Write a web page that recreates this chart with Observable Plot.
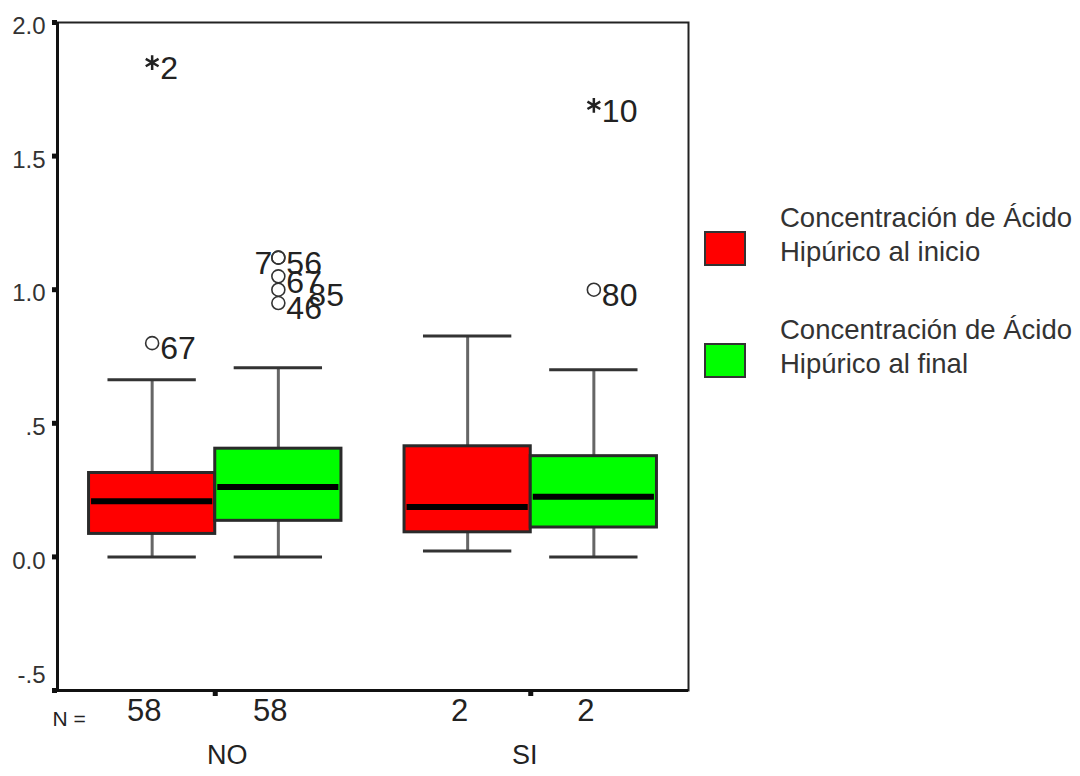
<!DOCTYPE html>
<html>
<head>
<meta charset="utf-8">
<script src="https://cdn.jsdelivr.net/npm/d3@7"></script>
<script src="https://cdn.jsdelivr.net/npm/@observablehq/plot@0.6"></script>
<style>
  body { margin: 0; background: #fff; }
  #wrap { position: relative; width: 1080px; height: 776px; overflow: hidden; background: #fff; }
  #chart { position: absolute; left: 0; top: 0; }
  #legend { position: absolute; left: 704px; top: 0; width: 376px; height: 776px; }
  .sw { position: absolute; left: 0; width: 38px; height: 31px; border: 2px solid #333; }
  .lab { position: absolute; left: 76px; font-family: "Liberation Sans", Arial, sans-serif;
         font-size: 27.5px; line-height: 34px; color: #333; white-space: nowrap; }
</style>
</head>
<body>
<div id="wrap">
  <div id="chart"></div>
  <div id="legend"></div>
</div>
<script>
// Groups (x axis) and the two measured series
const groups = ["NO", "SI"];
const seriesNames = [
  "Concentración de Ácido\nHipúrico al inicio",
  "Concentración de Ácido\nHipúrico al final"
];

// Box-plot summaries, indexed [group][series]
const counts      = [[58, 58], [2, 2]];
const whiskerLow  = [[0.000, 0.000], [0.022, 0.000]];
const quartile1   = [[0.086, 0.135], [0.092, 0.110]];
const medians     = [[0.208, 0.262], [0.187, 0.225]];
const quartile3   = [[0.314, 0.405], [0.414, 0.377]];
const whiskerHigh = [[0.663, 0.708], [0.827, 0.700]];

// Outliers (circle) and extreme values (asterisk) with their case labels
const outlierGroup  = ["NO", "NO", "NO", "NO", "NO", "NO", "NO", "SI", "SI"];
const outlierSeries = [0, 0, 1, 1, 1, 1, 1, 1, 1];
const outlierValue  = [1.85, 0.80, 1.12, 1.12, 1.05, 1.00, 0.95, 1.69, 1.00];
const outlierKind   = ["extreme", "outlier", "outlier", "outlier", "outlier", "outlier", "outlier", "extreme", "outlier"];
const outlierLabel  = ["2", "67", "7", "56", "67", "85", "46", "10", "80"];

// Y axis ticks and their printed labels
const yTicks = [-0.5, 0, 0.5, 1.0, 1.5, 2.0];
const yTickLabels = ["-.5", "0.0", ".5", "1.0", "1.5", "2.0"];

// ---- styling ----
const fills = ["#ff0000", "#00ff00"];
const font = '"Liberation Sans", Arial, sans-serif';
const xDomain = [-1.25, 3.75];
const groupSpacing = 2.5;
const boxHalf = 0.5, capHalf = 0.35;
const center = (gi, si) => gi * groupSpacing + (si - 0.5);
const tickLabel = d => yTickLabels[yTicks.indexOf(d)];

const rows = [];
groups.forEach((g, gi) => seriesNames.forEach((s, si) => rows.push({
  group: g, si, cx: center(gi, si),
  lo: whiskerLow[gi][si], q1: quartile1[gi][si], med: medians[gi][si],
  q3: quartile3[gi][si], hi: whiskerHigh[gi][si], n: counts[gi][si]
})));

const outliers = outlierValue.map((v, i) => ({
  cx: center(groups.indexOf(outlierGroup[i]), outlierSeries[i]),
  value: v, kind: outlierKind[i], label: outlierLabel[i],
  key: `${outlierGroup[i]}-${outlierSeries[i]}-${outlierLabel[i]}`
}));
// label placement tweaks for crowded labels
const nudges = { "NO-1-7": "left", "NO-1-85": "far" };
const lblRight = outliers.filter(d => !nudges[d.key]);
const lblLeft  = outliers.filter(d => nudges[d.key] === "left");
const lblFar   = outliers.filter(d => nudges[d.key] === "far");
const lblStyle = { x: "cx", y: "value", text: "label", fontSize: 32, fill: "#222", dy: 6 };

const groupLabelDx = { NO: 12, SI: -6 };
const yLabelStyle = { y: d => d, text: tickLabel, frameAnchor: "left", textAnchor: "end", dx: -12, fontSize: 24, fill: "#333" };

const chart = Plot.plot({
  width: 700,
  height: 776,
  marginTop: 22,
  marginBottom: 86,
  marginLeft: 57,
  marginRight: 12,
  style: { background: "white", fontFamily: font, color: "#333" },
  x: { domain: xDomain, axis: null },
  y: { domain: [yTicks[0], yTicks[yTicks.length - 1]] },
  marks: [
    Plot.frame({ stroke: "#222", strokeWidth: 2 }),
    Plot.ruleX([xDomain[0]], { stroke: "#111", strokeWidth: 3 }),
    Plot.ruleY([yTicks[0]], { stroke: "#111", strokeWidth: 3 }),
    // y axis tick marks; labels sit a little below their ticks, the lowest lifted above the corner
    Plot.axisY({
      ticks: yTicks, tickFormat: () => "",
      tickSize: 5, stroke: "#111", strokeWidth: 5, label: null
    }),
    Plot.text(yTicks.slice(1), { ...yLabelStyle, dy: 4 }),
    Plot.text(yTicks.slice(0, 1), { ...yLabelStyle, dy: -15 }),
    Plot.axisX({
      ticks: groups.map((g, gi) => gi * groupSpacing),
      tickFormat: () => "", tickSize: 6, stroke: "#111", strokeWidth: 5, label: null
    }),
    // whiskers
    Plot.ruleX(rows, { x: "cx", y1: "lo", y2: "q1", stroke: "#666", strokeWidth: 3 }),
    Plot.ruleX(rows, { x: "cx", y1: "q3", y2: "hi", stroke: "#666", strokeWidth: 3 }),
    Plot.ruleY(rows, { y: "lo", x1: d => d.cx - capHalf, x2: d => d.cx + capHalf, stroke: "#333", strokeWidth: 3 }),
    Plot.ruleY(rows, { y: "hi", x1: d => d.cx - capHalf, x2: d => d.cx + capHalf, stroke: "#333", strokeWidth: 3 }),
    // boxes
    Plot.rect(rows, {
      x1: d => d.cx - boxHalf, x2: d => d.cx + boxHalf, y1: "q1", y2: "q3",
      fill: d => fills[d.si], stroke: "#2a2a2a", strokeWidth: 3
    }),
    Plot.ruleY(rows, { y: "med", x1: d => d.cx - boxHalf + 0.02, x2: d => d.cx + boxHalf - 0.02, stroke: "#000", strokeWidth: 6 }),
    // outliers and extremes
    Plot.dot(outliers.filter(d => d.kind === "outlier"), {
      x: "cx", y: "value", r: 6.5, symbol: "circle", stroke: "#333", strokeWidth: 1.6, fill: "none"
    }),
    Plot.dot(outliers.filter(d => d.kind === "extreme"), {
      x: "cx", y: "value", r: 7, symbol: "asterisk", stroke: "#222", strokeWidth: 2.5
    }),
    Plot.text(lblRight, { ...lblStyle, textAnchor: "start", dx: 8 }),
    Plot.text(lblLeft,  { ...lblStyle, textAnchor: "end", dx: -6 }),
    Plot.text(lblFar,   { ...lblStyle, textAnchor: "start", dx: 30 }),
    // N = row
    Plot.text(["N ="], { frameAnchor: "bottom-left", text: d => d, textAnchor: "start", dx: -5, dy: 35, fontSize: 21, fill: "#222" }),
    Plot.text(rows, { x: "cx", text: "n", frameAnchor: "bottom", dy: 30, dx: -8, fontSize: 31, fill: "#222" }),
    // group labels
    ...groups.map((g, gi) => Plot.text([g], {
      x: () => gi * groupSpacing, text: d => d, frameAnchor: "bottom",
      dy: 73, dx: groupLabelDx[g], fontSize: 27, fill: "#222"
    }))
  ]
});
document.getElementById("chart").appendChild(chart);

// legend
const legend = document.getElementById("legend");
const legendTops = [231, 343];
seriesNames.forEach((name, i) => {
  const sw = document.createElement("div");
  sw.className = "sw";
  sw.style.top = legendTops[i] + "px";
  sw.style.background = fills[i];
  legend.appendChild(sw);
  name.split("\n").forEach((line, j) => {
    const t = document.createElement("div");
    t.className = "lab";
    t.textContent = line;
    t.style.top = (legendTops[i] - 30 + j * 34) + "px";
    legend.appendChild(t);
  });
});
</script>
</body>
</html>
